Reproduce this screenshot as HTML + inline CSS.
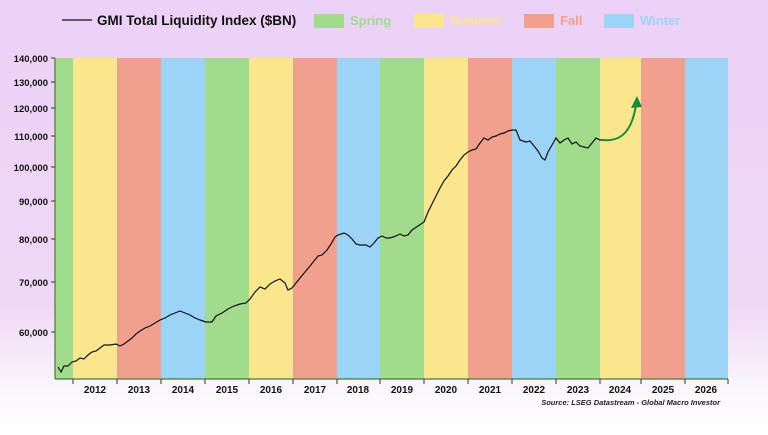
<!DOCTYPE html>
<html style="margin:0;background:#fff"><head><meta charset="utf-8"><style>
html,body{margin:0;width:768px;height:435px;overflow:hidden}
body{background:linear-gradient(#ecd2f6 0%,#efd8f6 70%,#fbf7fc 90%,#fff 100%);font-family:"Liberation Sans",Arial,sans-serif}
svg{display:block}
</style></head><body>
<svg width="768" height="435" xmlns="http://www.w3.org/2000/svg" font-family="Liberation Sans, Arial, sans-serif">
<g font-size="13" font-weight="bold">
<line x1="62" y1="20" x2="92" y2="20" stroke="#333" stroke-width="1.5"/>
<text x="97" y="25" fill="#111" font-size="13.5">GMI Total Liquidity Index ($BN)</text>
<rect x="314" y="14" width="30" height="14" fill="#a0dc8c"/><text x="350" y="25" fill="#a0dc8c">Spring</text>
<rect x="414" y="14" width="30" height="14" fill="#fae68c"/><text x="450" y="25" fill="#fae68c">Summer</text>
<rect x="524" y="14" width="30" height="14" fill="#f0a08c"/><text x="560" y="25" fill="#f0a08c">Fall</text>
<rect x="604" y="14" width="30" height="14" fill="#9cd4f8"/><text x="640" y="25" fill="#9cd4f8">Winter</text>
</g>
<g>
<rect x="55" y="58" width="18" height="321" fill="#a0dc8c"/>
<rect x="73" y="58" width="44" height="321" fill="#fae68c"/>
<rect x="117" y="58" width="44" height="321" fill="#f0a08c"/>
<rect x="161" y="58" width="44" height="321" fill="#9cd4f8"/>
<rect x="205" y="58" width="44" height="321" fill="#a0dc8c"/>
<rect x="249" y="58" width="44" height="321" fill="#fae68c"/>
<rect x="293" y="58" width="44" height="321" fill="#f0a08c"/>
<rect x="337" y="58" width="43" height="321" fill="#9cd4f8"/>
<rect x="380" y="58" width="44" height="321" fill="#a0dc8c"/>
<rect x="424" y="58" width="44" height="321" fill="#fae68c"/>
<rect x="468" y="58" width="44" height="321" fill="#f0a08c"/>
<rect x="512" y="58" width="44" height="321" fill="#9cd4f8"/>
<rect x="556" y="58" width="44" height="321" fill="#a0dc8c"/>
<rect x="600" y="58" width="41" height="321" fill="#fae68c"/>
<rect x="641" y="58" width="44" height="321" fill="#f0a08c"/>
<rect x="685" y="58" width="43" height="321" fill="#9cd4f8"/>
</g>
<line x1="55" y1="58" x2="55" y2="379" stroke="#4a7a3a" stroke-width="1.2"/>
<line x1="55" y1="379" x2="728" y2="379" stroke="#4a7a3a" stroke-width="1.2"/>
<g stroke="#333" stroke-width="1">
<line x1="51" y1="58" x2="55" y2="58"/><line x1="51" y1="82" x2="55" y2="82"/><line x1="51" y1="108" x2="55" y2="108"/><line x1="51" y1="136" x2="55" y2="136"/><line x1="51" y1="167" x2="55" y2="167"/><line x1="51" y1="201" x2="55" y2="201"/><line x1="51" y1="239" x2="55" y2="239"/><line x1="51" y1="282" x2="55" y2="282"/><line x1="51" y1="332" x2="55" y2="332"/>
<line x1="73" y1="379" x2="73" y2="384"/><line x1="117" y1="379" x2="117" y2="384"/><line x1="161" y1="379" x2="161" y2="384"/><line x1="205" y1="379" x2="205" y2="384"/><line x1="249" y1="379" x2="249" y2="384"/><line x1="293" y1="379" x2="293" y2="384"/><line x1="337" y1="379" x2="337" y2="384"/><line x1="380" y1="379" x2="380" y2="384"/><line x1="424" y1="379" x2="424" y2="384"/><line x1="468" y1="379" x2="468" y2="384"/><line x1="512" y1="379" x2="512" y2="384"/><line x1="556" y1="379" x2="556" y2="384"/><line x1="600" y1="379" x2="600" y2="384"/><line x1="641" y1="379" x2="641" y2="384"/><line x1="685" y1="379" x2="685" y2="384"/><line x1="728" y1="379" x2="728" y2="384"/>
</g>
<g font-size="9.5" font-weight="bold" fill="#111" text-anchor="end">
<text x="48" y="62">140,000</text><text x="48" y="86">130,000</text><text x="48" y="112">120,000</text><text x="48" y="140">110,000</text><text x="48" y="171">100,000</text><text x="48" y="205">90,000</text><text x="48" y="243">80,000</text><text x="48" y="286">70,000</text><text x="48" y="336">60,000</text>
</g>
<g font-size="10" font-weight="bold" fill="#111" text-anchor="middle">
<text x="95" y="393">2012</text><text x="139" y="393">2013</text><text x="183" y="393">2014</text><text x="227" y="393">2015</text><text x="271" y="393">2016</text><text x="315" y="393">2017</text><text x="358" y="393">2018</text><text x="402" y="393">2019</text><text x="446" y="393">2020</text><text x="490" y="393">2021</text><text x="534" y="393">2022</text><text x="578" y="393">2023</text><text x="620" y="393">2024</text><text x="663" y="393">2025</text><text x="706" y="393">2026</text>
</g>
<text x="720" y="405" font-size="7.5" font-style="italic" font-weight="bold" fill="#222" text-anchor="end">Source: LSEG Datastream - Global Macro Investor</text>
<polyline fill="none" stroke="#111" stroke-width="1.2" points="58,367 61,372 64,366 68,366 72,362 76,361 80,358 84,359 88,355 92,352 96,351 100,348 104,345 110,345 116,344 120,346 124,344 128,341 132,338 136,334 140,331 145,328 150,326 155,323 160,320 165,318 170,315 175,313 180,311 185,313 190,315 195,318 200,320 206,322 212,322 216,316 222,313 228,309 234,306 240,304 246,303 250,299 255,292 260,287 265,289 270,284 275,281 280,279 285,283 288,290 292,288 296,283 300,278 305,272 310,266 314,261 318,256 322,255 327,250 331,244 335,237 338,235 344,233 348,235 352,239 356,244 360,245 366,245 370,247 374,243 378,238 382,236 386,238 390,238 396,236 400,234 404,236 408,235 412,230 418,226 424,222 428,212 432,204 436,196 440,188 444,181 448,176 452,170 456,166 460,160 464,155 468,152 472,150 476,149 480,143 484,138 488,140 492,137 496,136 500,134 504,133 508,131 512,130 516,130 520,140 526,142 530,141 534,146 538,151 542,158 545,160 548,152 552,145 556,138 560,143 564,140 568,138 572,144 576,142 580,146 584,147 588,148 592,143 596,138 600,140 603,140"/>
<path d="M603,140 C622,142 632,130 636,105" fill="none" stroke="#1a8a3a" stroke-width="2"/>
<polygon points="637,96 631,108 642,107" fill="#1a8a3a"/>
</svg>
</body></html>
